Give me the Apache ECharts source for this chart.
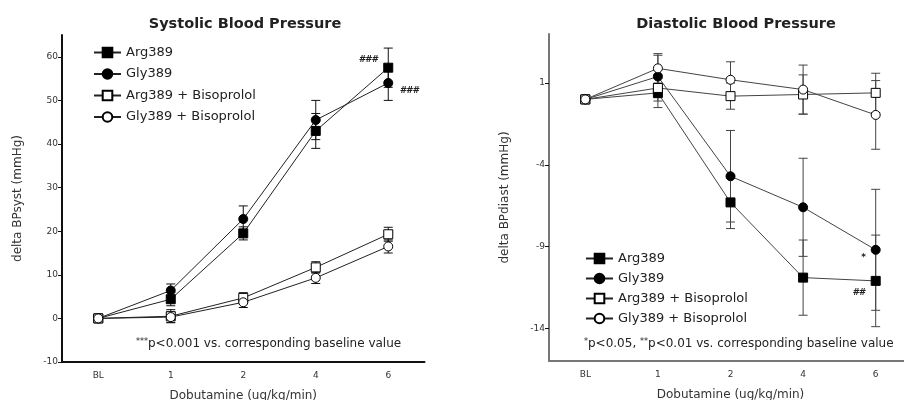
<!DOCTYPE html>
<html><head><meta charset="utf-8">
<script src="https://cdn.jsdelivr.net/npm/echarts@6/dist/echarts.min.js"></script>
<style>html,body{margin:0;padding:0;background:#fff}#c{width:904px;height:400px}</style>
</head><body><div id="c"></div>
<script>
var categories = ['BL', '1', '2', '4', '6'];
var seriesNames = ['Arg389', 'Gly389', 'Arg389 + Bisoprolol', 'Gly389 + Bisoprolol'];

var sysArg = [0, 4.4, 19.5, 43, 57.5];
var sysArgErr = [0, 1.5, 1.5, 4, 4.5];
var sysGly = [0, 6.4, 22.8, 45.5, 54];
var sysGlyErr = [0, 1.5, 3, 4.5, 4];
var sysArgB = [0, 0.5, 4.7, 11.7, 19.3];
var sysArgBErr = [0, 1.5, 1.2, 1.3, 1.6];
var sysGlyB = [0, 0.3, 3.7, 9.3, 16.5];
var sysGlyBErr = [0, 1.2, 1.2, 1.3, 1.5];

var diaArg = [0, 0.4, -6.3, -10.9, -11.1];
var diaArgErr = [0, 0.9, 1.6, 2.3, 2.8];
var diaGly = [0, 1.4, -4.7, -6.6, -9.2];
var diaGlyErr = [0, 1.3, 2.8, 3.0, 3.7];
var diaArgB = [0, 0.7, 0.2, 0.3, 0.4];
var diaArgBErr = [0, 0.8, 0.8, 1.2, 1.2];
var diaGlyB = [0, 1.9, 1.2, 0.6, -0.95];
var diaGlyBErr = [0, 0.9, 1.1, 1.5, 2.1];

var sysTicks = [-10, 0, 10, 20, 30, 40, 50, 60];
var diaTicks = [-14, -9, -4, 1];

var FONT = 'DejaVu Sans';

function errData(vals, errs) {
  var out = [];
  for (var i = 0; i < vals.length; i++) {
    if (errs[i] > 0) out.push([i, vals[i] - errs[i], vals[i] + errs[i]]);
  }
  return out;
}
function renderErr(params, api) {
  var x = api.value(0);
  var pHi = api.coord([x, api.value(2)]);
  var pLo = api.coord([x, api.value(1)]);
  var w = 4.5;
  var st = {stroke: params.seriesIndex >= 12 ? '#444' : '#111', lineWidth: 1};
  return {type: 'group', children: [
    {type: 'line', shape: {x1: pHi[0], y1: pHi[1], x2: pLo[0], y2: pLo[1]}, style: st},
    {type: 'line', shape: {x1: pHi[0] - w, y1: pHi[1], x2: pHi[0] + w, y2: pHi[1]}, style: st},
    {type: 'line', shape: {x1: pLo[0] - w, y1: pLo[1], x2: pLo[0] + w, y2: pLo[1]}, style: st}
  ]};
}

var styles = [
  {symbol: 'rect', fill: '#000'},
  {symbol: 'circle', fill: '#000'},
  {symbol: 'rect', fill: '#fff'},
  {symbol: 'circle', fill: '#fff'}
];

function lineSeries(idx, gi, name, data, lineColor, markPoint) {
  var s = styles[idx];
  var o = {
    type: 'line', name: name, xAxisIndex: gi, yAxisIndex: gi, data: data,
    symbol: s.symbol, symbolSize: 9, z: 5 + idx,
    showAllSymbol: true,
    lineStyle: {color: lineColor, width: 1},
    itemStyle: {color: s.fill, borderColor: '#000', borderWidth: 1},
    emphasis: {disabled: true}, animation: false
  };
  if (markPoint) o.markPoint = markPoint;
  return o;
}
function errSeries(gi, name, vals, errs) {
  return {type: 'custom', name: name, xAxisIndex: gi, yAxisIndex: gi,
    data: errData(vals, errs), renderItem: renderErr, z: 3, silent: true, animation: false};
}
function annot(catIdx, val, text, ox, oy) {
  return {symbol: 'circle', symbolSize: 1, silent: true, animation: false,
    itemStyle: {color: 'rgba(0,0,0,0)', borderWidth: 0},
    label: {show: true, position: 'inside', formatter: text, fontFamily: FONT, fontSize: 9, fontWeight: 'bold', fontStyle: 'italic', color: '#222', offset: [ox, oy]},
    data: [{coord: [catIdx, val]}]};
}

var sysSets = [[sysArg, sysArgErr], [sysGly, sysGlyErr], [sysArgB, sysArgBErr], [sysGlyB, sysGlyBErr]];
var diaSets = [[diaArg, diaArgErr], [diaGly, diaGlyErr], [diaArgB, diaArgBErr], [diaGlyB, diaGlyBErr]];

var series = [];
sysSets.forEach(function (d, i) {
  var mp = null;
  if (i === 0) mp = annot(4, sysArg[4], '###', -20, -8);
  if (i === 1) mp = annot(4, sysGly[4], '###', 21, 8);
  series.push(lineSeries(i, 0, seriesNames[i], d[0], '#222', mp));
});
diaSets.forEach(function (d, i) {
  var mp = null;
  if (i === 0) mp = annot(4, diaArg[4], '##', -17, 12);
  if (i === 1) mp = annot(4, diaGly[4], '*', -12, 8);
  series.push(lineSeries(i, 1, seriesNames[i], d[0], '#444', mp));
});
sysSets.forEach(function (d, i) { series.push(errSeries(0, seriesNames[i], d[0], d[1])); });
diaSets.forEach(function (d, i) { series.push(errSeries(1, seriesNames[i], d[0], d[1])); });

function xAxis(gi, color) {
  return {
    type: 'category', gridIndex: gi, data: categories, boundaryGap: true,
    name: 'Dobutamine (ug/kg/min)', nameLocation: 'middle', nameGap: 28,
    nameTextStyle: {fontFamily: FONT, fontSize: 12, color: '#333'},
    axisLine: {onZero: false, lineStyle: {color: color, width: 2}},
    axisTick: {alignWithLabel: true, length: 5, lineStyle: {color: '#111', width: 2}},
    axisLabel: {fontFamily: FONT, fontSize: 9, color: '#333', margin: 9},
    splitLine: {show: false}
  };
}
function yAxis(gi, min, max, ticks, name, color, gap) {
  return {
    type: 'value', gridIndex: gi, min: min, max: max,
    name: name, nameLocation: 'middle', nameGap: gap, nameRotate: 90,
    nameTextStyle: {fontFamily: FONT, fontSize: 12, color: '#333'},
    axisLine: {show: true, onZero: false, lineStyle: {color: color, width: 2}},
    axisTick: {show: true, length: 4, customValues: ticks, lineStyle: {color: '#111', width: 1}},
    axisLabel: {customValues: ticks, fontFamily: FONT, fontSize: 9, color: '#333', margin: 4},
    splitLine: {show: false}
  };
}

var legendBase = {
  orient: 'vertical', itemWidth: 27, itemHeight: 12, itemGap: 8.5,
  textStyle: {fontFamily: FONT, fontSize: 13, color: '#222'},
  selectedMode: false, data: seriesNames
};

var option = {
  backgroundColor: '#fff',
  animation: false,
  title: [
    {text: 'Systolic Blood Pressure', left: 240, top: 12, textAlign: 'center',
      textStyle: {fontFamily: FONT, fontSize: 14.5, fontWeight: 'bold', color: '#222'}},
    {text: 'Diastolic Blood Pressure', left: 731, top: 12, textAlign: 'center',
      textStyle: {fontFamily: FONT, fontSize: 14.5, fontWeight: 'bold', color: '#222'}}
  ],
  grid: [
    {left: 62, top: 35, width: 362.5, height: 327, containLabel: false, outerBoundsMode: 'none'},
    {left: 549, top: 34, width: 363, height: 327, containLabel: false, outerBoundsMode: 'none'}
  ],
  xAxis: [xAxis(0, '#111'), xAxis(1, '#777')],
  yAxis: [
    yAxis(0, -10, 65, sysTicks, 'delta BPsyst (mmHg)', '#111', 38),
    yAxis(1, -16, 4, diaTicks, 'delta BPdiast (mmHg)', '#777', 38)
  ],
  legend: [
    Object.assign({}, legendBase, {left: 88, top: 41}),
    Object.assign({}, legendBase, {left: 580, top: 247, itemGap: 7})
  ],
  graphic: [
    {type: 'text', left: 136, top: 338, style: {
      text: '{s|***}p<0.001 vs. corresponding baseline value',
      rich: {s: {fontSize: 8, fontFamily: FONT, verticalAlign: 'top', color: '#222'}},
      fontFamily: FONT, fontSize: 12, fill: '#222'}},
    {type: 'text', left: 584, top: 338, style: {
      text: '{s|*}p<0.05, {s|**}p<0.01 vs. corresponding baseline value',
      rich: {s: {fontSize: 8, fontFamily: FONT, verticalAlign: 'top', color: '#222'}},
      fontFamily: FONT, fontSize: 12, fill: '#222'}}
  ],
  series: series
};

var chart = echarts.init(document.getElementById('c'), null, {renderer: 'canvas'});
chart.setOption(option);
</script>
</body></html>
